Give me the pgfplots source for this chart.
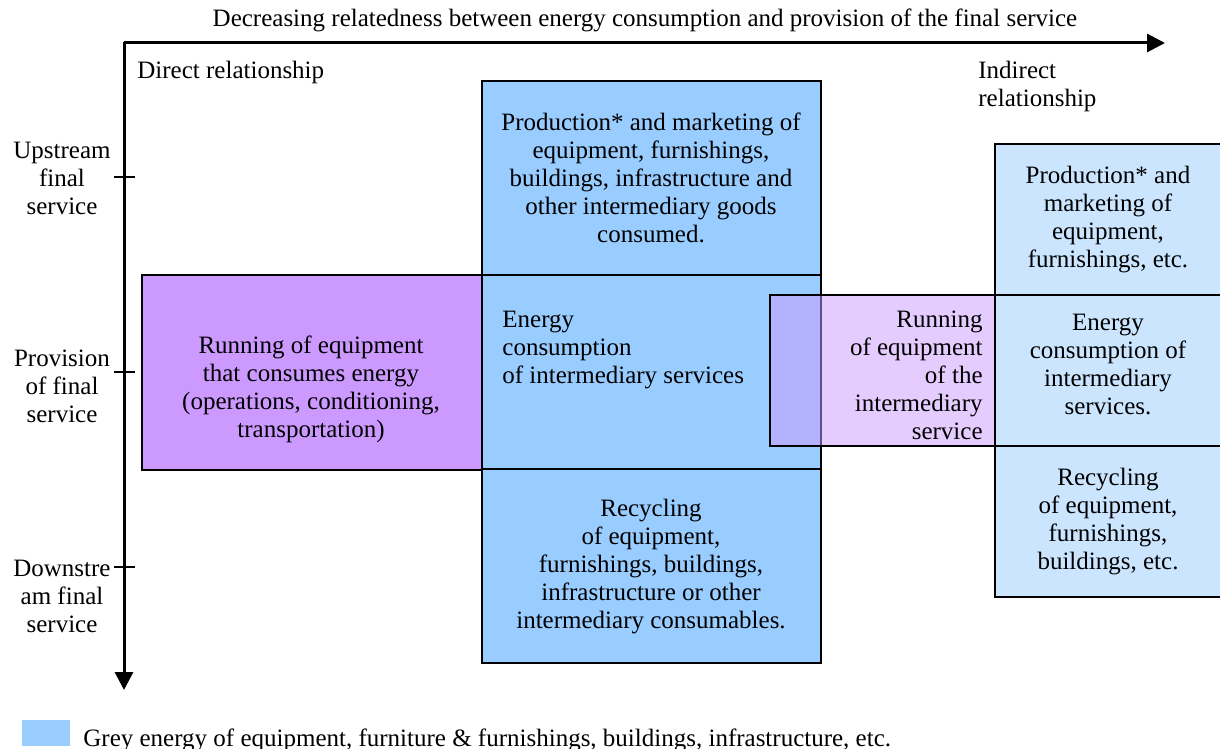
\documentclass[border=0pt]{standalone}
\usepackage{pgfplots}
\pgfplotsset{compat=1.18}
\usepackage{fontspec}
\setmainfont{Liberation Serif}
\usetikzlibrary{arrows.meta}
\definecolor{blueA}{HTML}{99CCFF}
\definecolor{purpA}{HTML}{CC99FF}
\begin{document}
\begin{tikzpicture}[every node/.style={font=\fontsize{12.5}{14}\selectfont, inner sep=0pt}]
\begin{axis}[
  hide axis, scale only axis, width=610pt, height=374.5pt,
  xmin=0, xmax=1220, ymin=0, ymax=749, y dir=reverse,
  clip=true]
% boxes
\addplot[fill=blueA, draw=black, line width=0.75pt] coordinates {(482,81) (821,81) (821,275) (482,275)} -- cycle;
\addplot[fill=blueA, draw=black, line width=0.75pt] coordinates {(482,275) (821,275) (821,469) (482,469)} -- cycle;
\addplot[fill=blueA, draw=black, line width=0.75pt] coordinates {(482,469) (821,469) (821,663) (482,663)} -- cycle;
\addplot[fill=purpA, draw=black, line width=0.75pt] coordinates {(142,275) (482,275) (482,470) (142,470)} -- cycle;
\addplot[fill=blueA, fill opacity=0.5, draw=black, line width=0.75pt] coordinates {(995,144) (1230,144) (1230,295) (995,295)} -- cycle;
\addplot[fill=blueA, fill opacity=0.5, draw=black, line width=0.75pt] coordinates {(995,295) (1230,295) (1230,446) (995,446)} -- cycle;
\addplot[fill=blueA, fill opacity=0.5, draw=black, line width=0.75pt] coordinates {(995,446) (1230,446) (1230,597) (995,597)} -- cycle;
\addplot[fill=purpA, fill opacity=0.5, draw=black, line width=0.75pt] coordinates {(770,295) (995,295) (995,446) (770,446)} -- cycle;
% legend swatch
\addplot[fill=blueA, draw=none] coordinates {(22,720) (70,720) (70,746) (22,746)} -- cycle;
% axes arrows
\addplot[black, line width=1.5pt, -{Triangle[length=9pt,width=9pt]}] coordinates {(124,43) (1165,43)};
\addplot[black, line width=1.5pt, -{Triangle[length=9pt,width=9pt]}] coordinates {(124,42) (124,690)};
\addplot[black, line width=0.9pt] coordinates {(114,177) (135,177)};
\addplot[black, line width=0.9pt] coordinates {(114,372) (135,372)};
\addplot[black, line width=0.9pt] coordinates {(114,567) (135,567)};
% texts
\node at (axis cs:645,20) {Decreasing relatedness between energy consumption and provision of the final service};
\node[anchor=west] at (axis cs:137,72) {Direct relationship};
\node[anchor=west, align=left] at (axis cs:978,86) {Indirect\\relationship};
\node[align=center] at (axis cs:62,178) {Upstream\\final\\service};
\node[align=center] at (axis cs:62,386) {Provision\\of final\\service};
\node[align=center] at (axis cs:62,596) {Downstre\\am final\\service};
\node[align=center] at (axis cs:651,178) {Production* and marketing of\\equipment, furnishings,\\buildings, infrastructure and\\other intermediary goods\\consumed.};
\node[align=left, anchor=west] at (axis cs:502,350) {Energy\\consumption\\of intermediary services};
\node[align=center] at (axis cs:651,567) {Recycling\\of equipment,\\furnishings, buildings,\\infrastructure or other\\intermediary consumables.};
\node[align=center] at (axis cs:311,389) {Running of equipment\\that consumes energy\\(operations, conditioning,\\transportation)};
\node[align=center] at (axis cs:1108,220) {Production* and\\marketing of\\equipment,\\furnishings, etc.};
\node[align=center] at (axis cs:1108,364) {Energy\\consumption of\\intermediary\\services.};
\node[align=center] at (axis cs:1108,522) {Recycling\\of equipment,\\furnishings,\\buildings, etc.};
\node[align=right, anchor=east] at (axis cs:983,375) {Running\\of equipment\\of the\\intermediary\\service};
\node[anchor=west] at (axis cs:83,740) {Grey energy of equipment, furniture \& furnishings, buildings, infrastructure, etc.};
\end{axis}
\pgfresetboundingbox
\path[use as bounding box] (current axis.south west) rectangle (current axis.north east);
\end{tikzpicture}
\end{document}
